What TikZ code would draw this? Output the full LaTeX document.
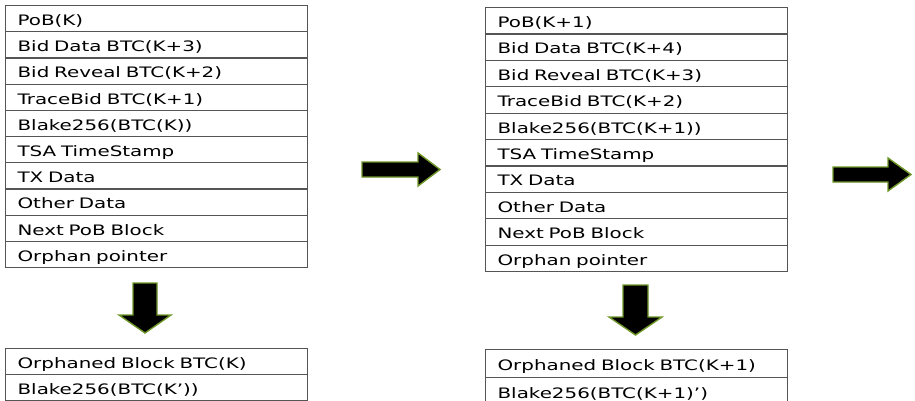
\documentclass[tikz,border=0pt]{standalone}
\usepackage{fontspec}
\setmainfont{DejaVu Sans}[FakeStretch=1.38]
\definecolor{bordergray}{RGB}{85,85,85}
\definecolor{arrowgreen}{RGB}{110,150,40}
\tikzset{
  cell/.style={draw=bordergray, line width=1.2pt, rectangle, anchor=north west,
    inner xsep=12pt, inner ysep=0pt, text height=14.5pt, text depth=1pt,
    align=left, font=\fontsize{14.4pt}{16pt}\selectfont},
  blockarrow/.style={fill=black, draw=arrowgreen, line width=1.4pt, line join=miter}
}
\begin{document}
\begin{tikzpicture}[x=1pt,y=-1pt]
\useasboundingbox (0,0) rectangle (915,401);
% left main table
\foreach \t [count=\i from 0] in {PoB(K),Bid Data BTC(K+3),Bid Reveal BTC(K+2),TraceBid BTC(K+1),Blake256(BTC(K)),TSA TimeStamp,TX Data,Other Data,Next PoB Block,Orphan pointer}{
  \node[cell, minimum width=302pt, text width=278pt, minimum height=26.2pt] (L\i) at (5,5+26.2*\i) {\t};
}
% right main table
\foreach \t [count=\i from 0] in {PoB(K+1),Bid Data BTC(K+4),Bid Reveal BTC(K+3),TraceBid BTC(K+2),Blake256(BTC(K+1)),TSA TimeStamp,TX Data,Other Data,Next PoB Block,Orphan pointer}{
  \node[cell, minimum width=302pt, text width=278pt, minimum height=26.4pt] (R\i) at (485,7+26.4*\i) {\t};
}
% left orphan table
\node[cell, minimum width=302pt, text width=278pt, minimum height=26pt] (LO0) at (5,348) {Orphaned Block BTC(K)};
\node[cell, minimum width=302pt, text width=278pt, minimum height=26pt] (LO1) at (5,374) {Blake256(BTC(K’))};
% right orphan table
\node[cell, minimum width=302pt, text width=278pt, minimum height=28pt] (RO0) at (485,349) {Orphaned Block BTC(K+1)};
\node[cell, minimum width=302pt, text width=278pt, minimum height=28pt] (RO1) at (485,377) {Blake256(BTC(K+1)’)};
% right arrows
\draw[blockarrow] (362,162) -- (418,162) -- (418,153) -- (440,169.5) -- (418,186) -- (418,177) -- (362,177) -- cycle;
\draw[blockarrow] (833,167) -- (888,167) -- (888,158) -- (911,174.5) -- (888,191) -- (888,182) -- (833,182) -- cycle;
% down arrows
\draw[blockarrow] (133,283) -- (157,283) -- (157,315) -- (171,315) -- (145,333) -- (119,315) -- (133,315) -- cycle;
\draw[blockarrow] (623,285) -- (648,285) -- (648,317) -- (662,317) -- (635.5,335) -- (609,317) -- (623,317) -- cycle;
\end{tikzpicture}
\end{document}
